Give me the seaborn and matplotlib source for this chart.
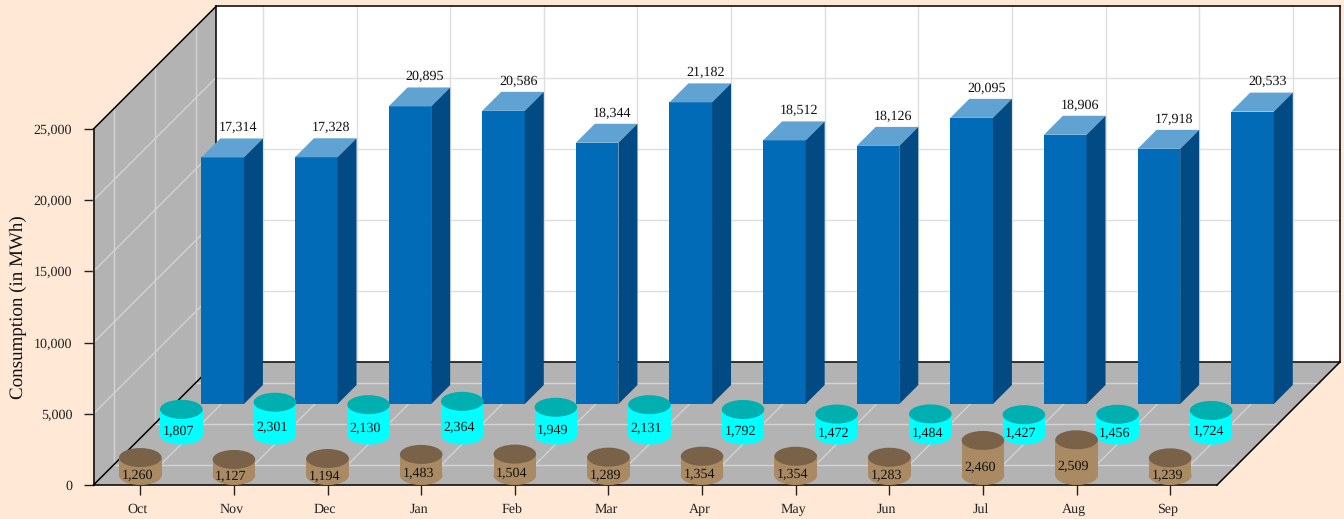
import matplotlib
matplotlib.use("Agg")
import matplotlib.pyplot as plt
from matplotlib.patches import Ellipse, Polygon
from matplotlib.transforms import Affine2D
import seaborn as sns

months = ["Oct", "Nov", "Dec", "Jan", "Feb", "Mar", "Apr", "May", "Jun", "Jul", "Aug", "Sep"]
brown_values = [1260, 1127, 1194, 1483, 1504, 1289, 1354, 1354, 1283, 2460, 2509, 1239]
cyan_values = [1807, 2301, 2130, 2364, 1949, 2131, 1792, 1472, 1484, 1427, 1456, 1724]
blue_values = [17314, 17328, 20895, 20586, 18344, 21182, 18512, 18126, 20095, 18906, 17918, 20533]
y_ticks = [0, 5000, 10000, 15000, 20000, 25000]
y_title = "Consumption (in MWh)"

BG = "#FFE9D6"
WALL = "#B3B3B3"
GRID_BACK = "#DEDEDE"
GRID_WALL = "#D2D2D2"
FS = 9.8

sns.set_theme(style="white")
plt.rcParams["font.family"] = ["Liberation Serif", "DejaVu Serif"]
plt.rcParams["text.hinting"] = "no_hinting"
plt.rcParams["text.hinting_factor"] = 1

W, H = 1344, 519
fig = plt.figure(figsize=(W / 100, H / 100), dpi=100, facecolor=BG)
ax = fig.add_axes([93.5 / W, (H - 485) / H, 1123.5 / W, 356 / H])

XMIN, XMAX, YMAX = -0.5, 11.5, 25000
ux = (XMAX - XMIN) / 1123.5   # data units per pixel
uy = YMAX / 356.0
DEPTH = 122.6
BAR_W = 42.6 * ux
BAR_D = 19


def P(x, v, dx=0.0, dy=0.0):
    return (x + dx * ux, v + dy * uy)


def line(a, b, color, lw, z):
    ax.plot([a[0], b[0]], [a[1], b[1]], color=color, lw=lw, zorder=z, clip_on=False,
            solid_capstyle="projecting")


def poly(pts, color, z, **kw):
    ax.add_patch(Polygon(pts, closed=True, facecolor=color, edgecolor="none", zorder=z,
                         clip_on=False, **kw))


# series drawn through seaborn, then moved to their depth
def bars(values, color, z, dx, dy):
    before = len(ax.patches)
    sns.barplot(x=months, y=values, order=months, color=color, saturation=1, width=BAR_W,
                ax=ax, zorder=z)
    rects = ax.patches[before:]
    for r in rects:
        r.set_x(r.get_x() + dx * ux)
        r.set_y(dy * uy)
        r.set_clip_on(False)
        r.set_linewidth(0)
    return rects


# walls and floor
poly([P(XMIN, YMAX), P(XMIN, YMAX, DEPTH, DEPTH), P(XMAX, YMAX, DEPTH, DEPTH), P(XMAX, 0, DEPTH, DEPTH), P(XMIN, 0, DEPTH, DEPTH)], "white", 0.5)
poly([P(XMIN, 0), P(XMIN, YMAX), P(XMIN, YMAX, DEPTH, DEPTH), P(XMIN, 0, DEPTH, DEPTH)], WALL, 0.6)
poly([P(XMIN, 0), P(XMAX, 0), P(XMAX, 0, DEPTH, DEPTH), P(XMIN, 0, DEPTH, DEPTH)], WALL, 0.6)

# grid
for v in y_ticks[1:-1]:
    line(P(XMIN, v, DEPTH, DEPTH), P(XMAX, v, DEPTH, DEPTH), GRID_BACK, 1.0, 0.7)
for v in y_ticks[1:]:
    line(P(XMIN, v), P(XMIN, v, DEPTH, DEPTH), GRID_WALL, 1.0, 0.7)
for i in range(len(months)):
    line(P(i, 0, DEPTH, DEPTH), P(i, YMAX, DEPTH, DEPTH), GRID_BACK, 1.0, 0.7)
    line(P(i, 0), P(i, 0, DEPTH, DEPTH), GRID_WALL, 1.0, 0.7)
for d in (20.5, 61.5, 102.5):
    line(P(XMIN, 0, d, d), P(XMAX, 0, d, d), GRID_WALL, 1.0, 0.7)
    line(P(XMIN, 0, d, d), P(XMIN, YMAX, d, d), GRID_WALL, 1.0, 0.7)

# frame
K = "#000000"
frame = [
    (P(XMIN, 0), P(XMIN, YMAX)), (P(XMIN, 0), P(XMAX, 0)),
    (P(XMIN, YMAX), P(XMIN, YMAX, DEPTH, DEPTH)), (P(XMIN, 0), P(XMIN, 0, DEPTH, DEPTH)),
    (P(XMAX, 0), P(XMAX, 0, DEPTH, DEPTH)),
    (P(XMIN, YMAX, DEPTH, DEPTH), P(XMAX, YMAX, DEPTH, DEPTH)),
    (P(XMIN, 0, DEPTH, DEPTH), P(XMAX, 0, DEPTH, DEPTH)),
    (P(XMIN, 0, DEPTH, DEPTH), P(XMIN, YMAX, DEPTH, DEPTH)),
    (P(XMAX, 0, DEPTH, DEPTH), P(XMAX, YMAX, DEPTH, DEPTH)),
]
for a, b in frame:
    line(a, b, K, 1.1, 1.0)

# blue bars
BLUE_DX, BLUE_DY = 82.3, 81
for i, r in enumerate(bars(blue_values, "#016BB7", 3, BLUE_DX, BLUE_DY)):
    x0, x1 = r.get_x(), r.get_x() + r.get_width()
    top = r.get_y() + r.get_height()
    bot = r.get_y()
    poly([(x0, top), (x1, top), P(x1, top, BAR_D, BAR_D), P(x0, top, BAR_D, BAR_D)], "#60A3D3", 3)
    poly([(x1, bot), (x1, top), P(x1, top, BAR_D, BAR_D), P(x1, bot, BAR_D, BAR_D)], "#014A83", 3)
    ax.text(*P((x0 + x1) / 2, top, 15, BAR_D + 10.7), f"{blue_values[i]:,}", ha="center", va="center",
            fontsize=FS, color="#111111", zorder=7, clip_on=False)


# cylinders
def cylinders(values, side, cap, z, dx, dy):
    for i, r in enumerate(bars(values, side, z, dx, dy)):
        cx = r.get_x() + r.get_width() / 2
        bot = r.get_y()
        top = bot + r.get_height()
        size = dict(width=r.get_width(), height=BAR_D * uy, zorder=z, clip_on=False, linewidth=0)
        ax.add_patch(Ellipse((cx, bot), facecolor=side, **size))
        ax.add_patch(Ellipse((cx, top), facecolor=cap, **size))
        mid = (top + bot) / 2 - (BAR_D / 2) * uy
        ax.text(*P(cx, mid, -3, 0.5), f"{values[i]:,}", ha="center", va="center", fontsize=FS,
                color="#111111", zorder=z + 0.5, clip_on=False)


cylinders(cyan_values, "#00FFFF", "#00B0B0", 4, 41, 50)
cylinders(brown_values, "#A98A62", "#7A6249", 5, 0, 9.5)

# axes
ax.set_xlim(XMIN, XMAX)
ax.set_ylim(0, YMAX)
ax.patch.set_visible(False)
for s in ax.spines.values():
    s.set_visible(False)
ax.set_yticks(y_ticks)
ax.set_yticklabels([f"{v:,}" for v in y_ticks])
ax.set_xticks(range(len(months)))
ax.set_xticklabels(months)
ax.grid(False)
ax.tick_params(axis="y", length=7.2, width=1.0, color="#222222", labelsize=FS, labelcolor="#222222", pad=8, left=True)
ax.tick_params(axis="x", length=7.2, width=1.0, color="#222222", labelsize=FS, labelcolor="#222222", pad=6, bottom=True)
for lab in ax.get_xticklabels():
    lab.set_transform(lab.get_transform() + Affine2D().translate(-2.5, 0))
ax.set_ylabel(y_title, fontsize=13.6, color="#111111")
ax.yaxis.set_label_coords((27 - 93.5) / 1123.5, (485 - 307.5) / 356)

fig.savefig("out.png", dpi=100, facecolor=BG)
